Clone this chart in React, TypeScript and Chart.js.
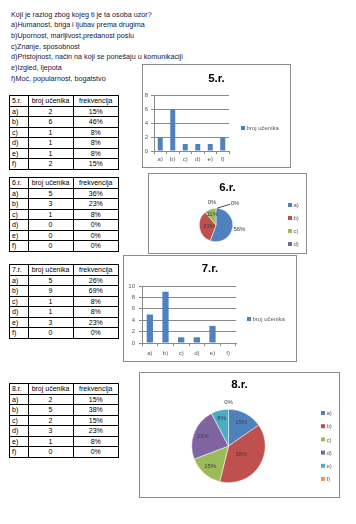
import React, { useEffect, useRef } from 'react';
import { Chart, registerables } from 'chart.js';

Chart.register(...registerables);

// ---------- data ----------
const questionLines = [
  'Koji je razlog zbog kojeg ti je ta osoba uzor?',
  'a)Humanost, briga i ljubav prema drugima',
  'b)Upornost, marljivost,predanost poslu',
  'c)Znanje, sposobnost',
  'd)Pristojnost, način na koji se ponešaju u komunikaciji',
  'e)Izgled, ljepota',
  'f)Moć, popularnost, bogatstvo',
];
const categories = ['a)', 'b)', 'c)', 'd)', 'e)', 'f)'];
const seriesName = 'broj učenika';
const freqHeader = 'frekvencija';

const grade5Title = '5.r.';
const grade5Counts = [2, 6, 1, 1, 1, 2];
const grade5Freq = ['15%', '46%', '8%', '8%', '8%', '15%'];
const grade5YMax = 8;

const grade6Title = '6.r.';
const grade6Counts = [5, 3, 1, 0, 0, 0];
const grade6Freq = ['36%', '23%', '8%', '0%', '0%', '0%'];
const grade6LegendItems = ['a)', 'b)', 'c)', 'd)'];

const grade7Title = '7.r.';
const grade7Counts = [5, 9, 1, 1, 3, 0];
const grade7Freq = ['26%', '69%', '8%', '8%', '23%', '0%'];
const grade7YMax = 10;

const grade8Title = '8.r.';
const grade8Counts = [2, 5, 2, 3, 1, 0];
const grade8Freq = ['15%', '38%', '15%', '23%', '8%', '0%'];

// ---------- styles ----------
const FONT = '"Liberation Sans", Arial, sans-serif';
const barColor = '#4F81BD';
const pieColors = ['#4F81BD', '#C0504D', '#9BBB59', '#8064A2', '#4BACC6', '#F79646'];
const axisColor = '#8a8a8a';
const tickColor = '#595959';

const overlayPlugin = {
  id: 'overlay',
  afterDraw(chart: any, _args: any, opts: any) {
    const ctx = chart.ctx;
    ctx.save();
    ctx.textAlign = 'center';
    ctx.textBaseline = 'middle';
    if (opts.title) {
      ctx.font = `bold 11.5px ${FONT}`;
      ctx.fillStyle = '#000';
      ctx.fillText(opts.title.text, chart.width / 2, opts.title.y);
    }
    if (opts.pieLabels) {
      const meta = chart.getDatasetMeta(0);
      const data: number[] = chart.data.datasets[0].data;
      const total = data.reduce((s, v) => s + v, 0);
      ctx.font = `6px ${FONT}`;
      meta.data.forEach((arc: any, i: number) => {
        const p = opts.pieLabels[i];
        if (!p) return;
        const { x, y, startAngle, endAngle, outerRadius } = arc.getProps(
          ['x', 'y', 'startAngle', 'endAngle', 'outerRadius'],
          true
        );
        const mid = (startAngle + endAngle) / 2;
        const lx = x + Math.cos(mid) * outerRadius * p.r + (p.dx || 0);
        const ly = y + Math.sin(mid) * outerRadius * p.r + (p.dy || 0);
        if (p.line) {
          ctx.strokeStyle = '#222';
          ctx.lineWidth = 0.8;
          ctx.beginPath();
          ctx.moveTo(x + Math.cos(mid) * outerRadius + 1, y + Math.sin(mid) * outerRadius);
          ctx.lineTo(lx - 5, ly + 1);
          ctx.stroke();
        }
        ctx.fillStyle = p.color || '#404040';
        ctx.fillText(Math.round((data[i] / total) * 100) + '%', lx, ly);
      });
    }
    if (opts.legend) {
      const { x, y, step, items, colors } = opts.legend;
      ctx.textAlign = 'left';
      ctx.font = `6px ${FONT}`;
      items.forEach((t: string, i: number) => {
        const yy = y + i * step;
        ctx.fillStyle = colors[i];
        ctx.fillRect(x, yy - 2, 4, 4);
        ctx.fillStyle = tickColor;
        ctx.fillText(t, x + 5.5, yy + 0.5);
      });
    }
    ctx.restore();
  },
};

function barConfig(title: string, counts: number[], yMax: number, g: any) {
  const tickFont = { family: FONT, size: 6 };
  return {
    type: 'bar',
    data: {
      labels: categories,
      datasets: [
        {
          label: seriesName,
          data: counts,
          backgroundColor: barColor,
          borderWidth: 0,
          categoryPercentage: 1,
          barPercentage: 0.4,
        },
      ],
    },
    plugins: [overlayPlugin],
    options: {
      responsive: false,
      animation: false,
      events: [],
      layout: { padding: { left: 0, top: g.top, right: g.right, bottom: 0 } },
      plugins: {
        legend: { display: false },
        title: { display: false },
        tooltip: { enabled: false },
        overlay: {
          title: { text: title, y: g.titleY },
          legend: { x: g.legX, y: g.legY, step: 0, items: [seriesName], colors: [barColor] },
        },
      },
      scales: {
        x: {
          grid: {
            display: true,
            drawOnChartArea: false,
            drawTicks: true,
            tickLength: 3,
            color: axisColor,
            offset: true,
          },
          border: { color: axisColor },
          ticks: { font: tickFont, color: tickColor, padding: g.xPad, maxRotation: 0, autoSkip: false },
          afterFit: (s: any) => {
            s.height = g.xH;
          },
        },
        y: {
          min: 0,
          max: yMax,
          ticks: { stepSize: 2, font: tickFont, color: tickColor, padding: g.yPad },
          grid: { color: axisColor, tickLength: 3 },
          border: { color: axisColor },
          afterFit: (s: any) => {
            s.width = g.yW;
          },
        },
      },
    },
  };
}

function pieConfig(title: string, counts: number[], g: any) {
  return {
    type: 'pie',
    data: {
      labels: categories,
      datasets: [
        {
          data: counts,
          backgroundColor: pieColors,
          borderColor: '#ffffff',
          borderWidth: 0.5,
        },
      ],
    },
    plugins: [overlayPlugin],
    options: {
      responsive: false,
      animation: false,
      events: [],
      layout: { padding: g.padding },
      plugins: {
        legend: { display: false },
        title: { display: false },
        tooltip: { enabled: false },
        overlay: {
          title: { text: title, y: g.titleY },
          pieLabels: g.labels,
          legend: { x: g.legX, y: g.legY, step: g.legStep, items: g.legItems, colors: pieColors },
        },
      },
    },
  };
}

function ChartBox({ x, y, w, h, config }: any) {
  const ref = useRef<HTMLCanvasElement | null>(null);
  useEffect(() => {
    const chart = new Chart(ref.current as HTMLCanvasElement, config() as any);
    return () => chart.destroy();
  }, []);
  return (
    <div
      style={{
        position: 'absolute',
        left: x,
        top: y,
        width: w,
        height: h,
        boxSizing: 'border-box',
        border: '1px solid #8c8c8c',
        background: '#fff',
      }}
    >
      <canvas ref={ref} width={w - 2} height={h - 2} style={{ display: 'block', width: w - 2, height: h - 2 }} />
    </div>
  );
}

function GradeTable({ x, y, title, counts, freq }: any) {
  const widths = [18.5, 45, 45.5];
  const rowH = 10.5;
  const rows = [[title, seriesName, freqHeader]].concat(
    categories.map((c, i) => [c, String(counts[i]), freq[i]])
  );
  return (
    <div
      style={{
        position: 'absolute',
        left: x,
        top: y,
        borderLeft: '1px solid #000',
        borderTop: '1px solid #000',
        fontFamily: FONT,
        fontSize: 7,
        color: '#000',
      }}
    >
      {rows.map((r, ri) => (
        <div key={ri} style={{ display: 'flex', height: rowH }}>
          {r.map((cell, ci) => (
            <div
              key={ci}
              style={{
                width: widths[ci],
                height: rowH,
                boxSizing: 'border-box',
                borderRight: '1px solid #000',
                borderBottom: '1px solid #000',
                textAlign: ci === 0 ? 'left' : 'center',
                paddingLeft: ci === 0 ? 2 : 0,
                lineHeight: rowH - 1 + 'px',
                whiteSpace: 'nowrap',
                overflow: 'hidden',
              }}
            >
              {cell}
            </div>
          ))}
        </div>
      ))}
    </div>
  );
}

export default function App() {
  const lineH = 10.7;
  return (
    <div
      style={{
        position: 'absolute',
        left: 0,
        top: 0,
        width: 356,
        height: 524,
        background: '#fff',
        overflow: 'hidden',
      }}
    >
      {questionLines.map((t, i) => (
        <div
          key={i}
          style={{
            position: 'absolute',
            left: 11,
            top: 15 - lineH / 2 + i * lineH,
            height: lineH,
            lineHeight: lineH + 'px',
            fontFamily: FONT,
            fontSize: 7.2,
            color: '#16163c',
            whiteSpace: 'nowrap',
          }}
        >
          {t}
        </div>
      ))}

      <GradeTable x={9} y={95} title={grade5Title} counts={grade5Counts} freq={grade5Freq} />
      <GradeTable x={9} y={177} title={grade6Title} counts={grade6Counts} freq={grade6Freq} />
      <GradeTable x={9} y={264} title={grade7Title} counts={grade7Counts} freq={grade7Freq} />
      <GradeTable x={9} y={383} title={grade8Title} counts={grade8Counts} freq={grade8Freq} />

      <ChartBox
        x={142}
        y={64}
        w={149}
        h={104}
        config={() =>
          barConfig(grade5Title, grade5Counts, grade5YMax, {
            top: 30,
            right: 61,
            xH: 16,
            yW: 11,
            xPad: 2,
            yPad: 3,
            titleY: 14,
            legX: 98,
            legY: 63,
          })
        }
      />
      <ChartBox
        x={148}
        y={173}
        w={159}
        h={81}
        config={() =>
          pieConfig(grade6Title, grade6Counts, {
            padding: { left: 50, right: 73, top: 34, bottom: 11 },
            titleY: 14,
            labels: [
              { r: 1.42 },
              { r: 0.42 },
              { r: 0.66 },
              { r: 1.35, dx: -4 },
              { r: 1.3, dx: 19, line: true },
              null,
            ],
            legX: 139,
            legY: 31,
            legStep: 13,
            legItems: grade6LegendItems,
          })
        }
      />
      <ChartBox
        x={123}
        y={255}
        w={174}
        h={107}
        config={() =>
          barConfig(grade7Title, grade7Counts, grade7YMax, {
            top: 30,
            right: 60,
            xH: 18,
            yW: 18,
            xPad: 4,
            yPad: 4,
            titleY: 13,
            legX: 123,
            legY: 63,
          })
        }
      />
      <ChartBox
        x={139}
        y={372}
        w={201}
        h={126}
        config={() =>
          pieConfig(grade8Title, grade8Counts, {
            padding: { left: 51.5, right: 73.5, top: 36, bottom: 14 },
            titleY: 12,
            labels: [
              { r: 0.74 },
              { r: 0.42 },
              { r: 0.75 },
              { r: 0.75 },
              { r: 0.78 },
              { r: 1.19 },
            ],
            legX: 181,
            legY: 40,
            legStep: 13.2,
            legItems: categories,
          })
        }
      />
    </div>
  );
}
